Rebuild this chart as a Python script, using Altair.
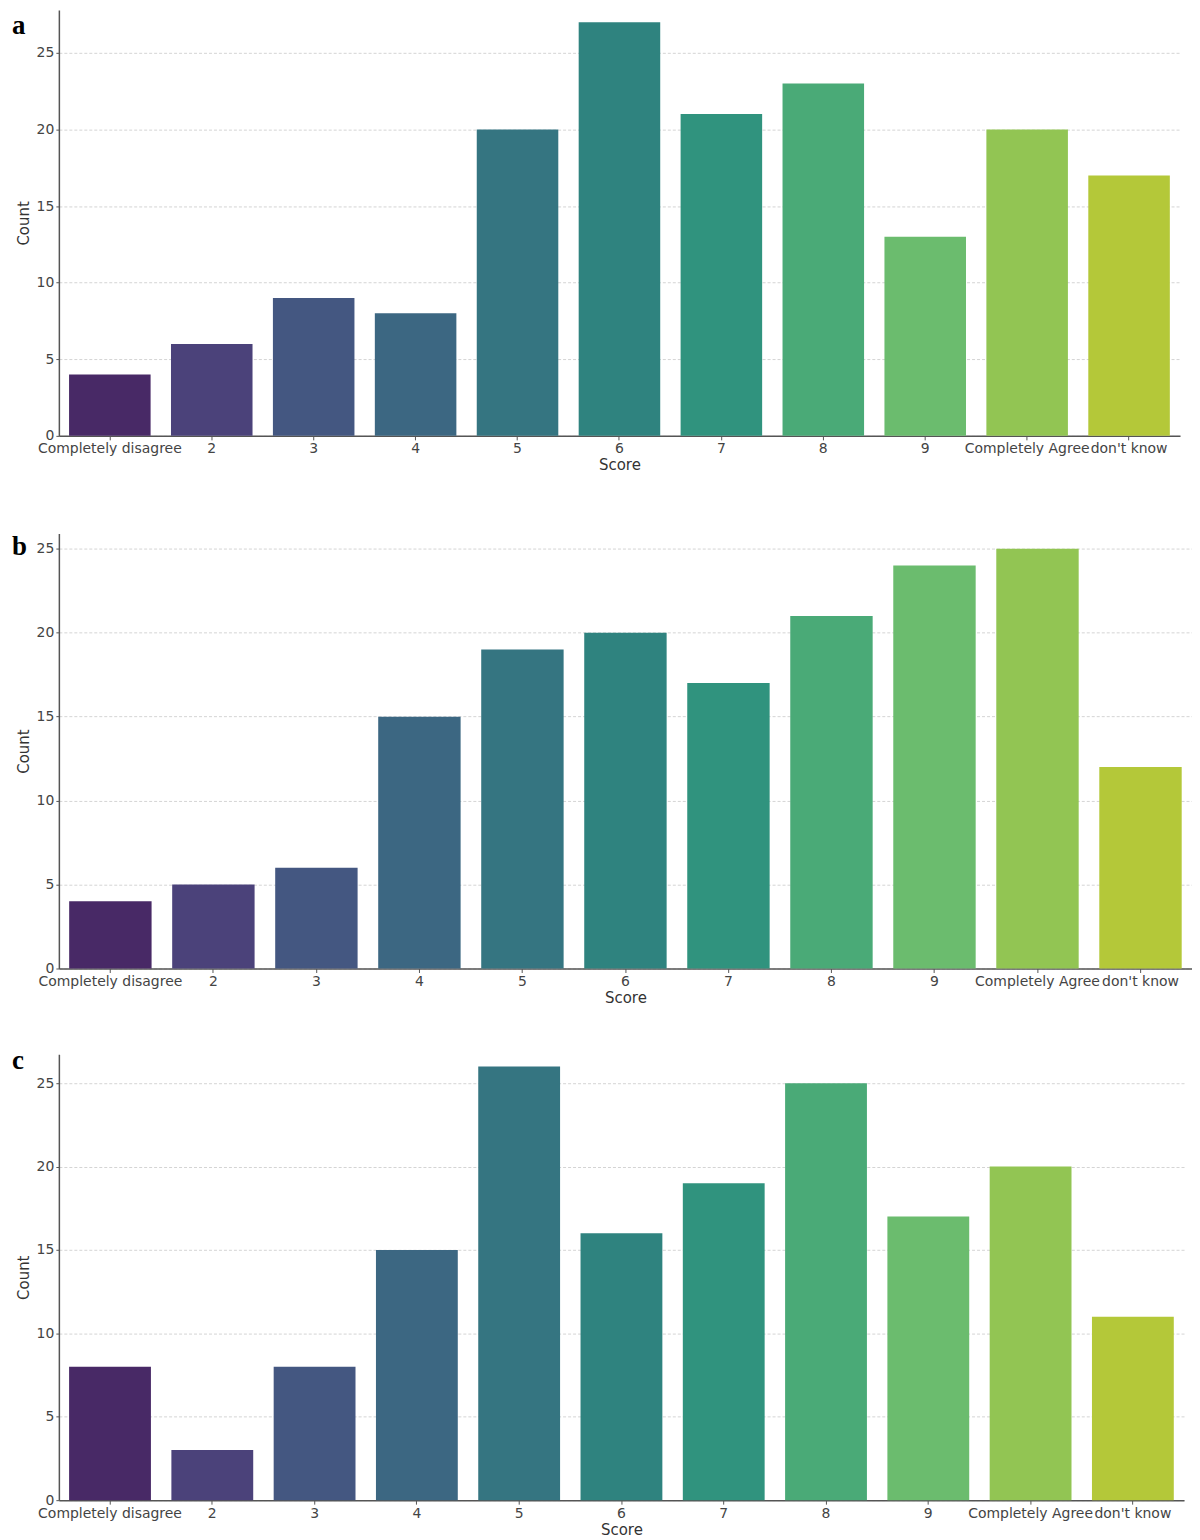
import altair as alt
import pandas as pd

categories = ["Completely disagree", "2", "3", "4", "5", "6", "7", "8", "9",
              "Completely Agree", "don't know"]
counts_a = [4, 6, 9, 8, 20, 27, 21, 23, 13, 20, 17]
counts_b = [4, 5, 6, 15, 19, 20, 17, 21, 24, 25, 12]
counts_c = [8, 3, 8, 15, 26, 16, 19, 25, 17, 20, 11]
colors = ["#482966", "#4b427a", "#445781", "#3c6782", "#357581", "#2f837f",
          "#30937e", "#4aaa77", "#6bbc6e", "#92c553", "#b4c839"]
y_ticks = [0, 5, 10, 15, 20, 25]

FONT = "DejaVu Sans"


def panel(counts, letter, width, height, ymax, letter_y, extent_top):
    df = pd.DataFrame({"Score": categories, "Count": counts})
    bars = alt.Chart(df).mark_bar().encode(
        x=alt.X("Score:N", sort=categories, title="Score",
                scale=alt.Scale(paddingInner=0.2, paddingOuter=0.1),
                axis=alt.Axis(labelAngle=0, labelOverlap=False, labelBound=False,
                              labelFlush=False, grid=False, tickSize=4,
                              labelPadding=2, titlePadding=2)),
        y=alt.Y("Count:Q", title="Count",
                scale=alt.Scale(domain=[0, ymax], nice=False),
                axis=alt.Axis(values=y_ticks, grid=True, gridDash=[3, 2],
                              gridColor="#d4d4d4", gridWidth=1, tickSize=3,
                              labelPadding=2, titlePadding=5)),
        color=alt.Color("Score:N", sort=categories,
                        scale=alt.Scale(domain=categories, range=colors),
                        legend=None),
    )
    ldf = pd.DataFrame({"t": [letter]})
    lab = alt.Chart(ldf).mark_text(
        font="Liberation Serif", fontWeight="bold", fontSize=27,
        align="left", baseline="top", color="#000000"
    ).encode(x=alt.value(-47), y=alt.value(letter_y), text="t:N")
    layers = [bars, lab]
    if extent_top > 0:
        idf = pd.DataFrame({"t": [0]})
        inv = alt.Chart(idf).mark_rule(opacity=0).encode(
            x=alt.value(0), y=alt.value(-extent_top), y2=alt.value(0))
        layers.append(inv)
    return alt.layer(*layers).properties(width=width, height=height)


pa = panel(counts_a, "a", 1124, 427, 27.8, 3, 0)
pb = panel(counts_b, "b", 1136, 436, 25.9, 0, 22)
pc = panel(counts_c, "c", 1128, 447, 26.73, -6, 10)

chart = alt.vconcat(pa, pb, pc, spacing=39).properties(
    padding={"left": 4, "top": 0, "right": 0, "bottom": 0}
).configure_view(stroke=None).configure_axis(
    labelFont=FONT, titleFont=FONT, labelFontSize=14, titleFontSize=15,
    labelColor="#444444", titleColor="#333333", titleFontWeight="normal",
    domainColor="#555555", domainWidth=1.5, tickColor="#555555"
)

chart.save("out.html", embed_options={"renderer": "svg", "actions": False})
